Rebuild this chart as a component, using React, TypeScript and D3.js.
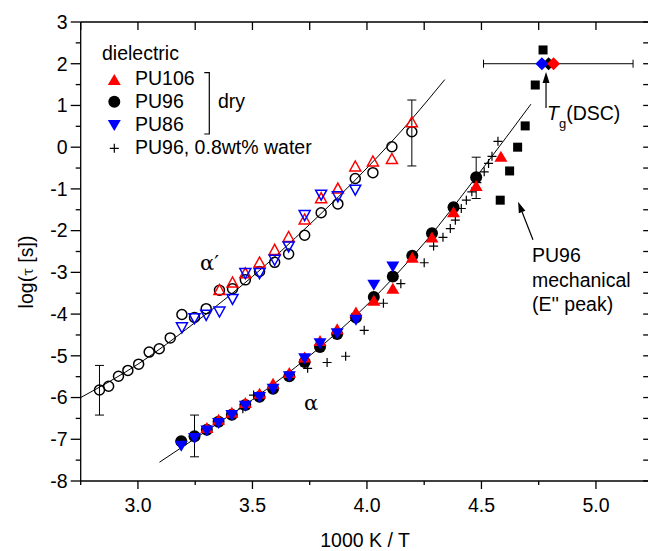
import React from 'react'
import * as d3 from 'd3'

// alpha' process (open symbols)
const pu96AlphaP = [[2.832,-5.82],[2.872,-5.73],[2.915,-5.49],[2.956,-5.35],[3.003,-5.2],[3.049,-4.91],[3.093,-4.83],[3.141,-4.57],[3.192,-4.01],[3.247,-4.08],[3.298,-3.87],[3.356,-3.43],[3.413,-3.39],[3.469,-3.18],[3.531,-2.98],[3.597,-2.76],[3.658,-2.56],[3.728,-2.11],[3.8,-1.57],[3.873,-1.36],[3.949,-0.75],[4.026,-0.61],[4.109,0.01],[4.196,0.37]]
const pu106AlphaP = [[3.356,-3.41],[3.413,-3.23],[3.469,-3.01],[3.531,-2.75],[3.597,-2.45],[3.658,-2.14],[3.728,-1.72],[3.8,-1.21],[3.873,-0.98],[3.949,-0.45],[4.026,-0.33],[4.109,-0.27],[4.196,0.61]]
const pu86AlphaP = [[3.192,-4.33],[3.247,-4.11],[3.298,-4.03],[3.356,-3.95],[3.413,-3.65],[3.469,-3.03],[3.531,-3.03],[3.597,-2.71],[3.658,-2.39],[3.728,-1.64],[3.8,-1.15],[3.873,-1.19],[3.949,-1.03]]

// alpha process (filled symbols)
const pu96Alpha = [[3.189,-7.05],[3.247,-6.93],[3.301,-6.77],[3.352,-6.58],[3.41,-6.41],[3.469,-6.18],[3.531,-5.98],[3.59,-5.79],[3.661,-5.49],[3.728,-5.15],[3.795,-4.79],[3.87,-4.48],[3.952,-4.08],[4.03,-3.59],[4.113,-3.1],[4.198,-2.6],[4.284,-2.06],[4.378,-1.44],[4.477,-0.72]]
const pu106Alpha = [[3.301,-6.72],[3.352,-6.52],[3.41,-6.35],[3.469,-6.12],[3.531,-5.9],[3.59,-5.66],[3.661,-5.4],[3.728,-5.03],[3.795,-4.63],[3.87,-4.35],[3.952,-3.95],[4.03,-3.67],[4.113,-3.38],[4.198,-2.64],[4.284,-2.15],[4.378,-1.55],[4.477,-0.92],[4.585,-0.22]]
const pu86Alpha = [[3.189,-7.17],[3.247,-6.98],[3.301,-6.8],[3.352,-6.62],[3.41,-6.43],[3.469,-6.21],[3.531,-6.0],[3.59,-5.8],[3.661,-5.5],[3.728,-5.07],[3.795,-4.71],[3.87,-4.47],[3.952,-4.15],[4.03,-3.31],[4.113,-2.87]]
const waterAlpha = [[3.458,-6.27],[3.505,-5.94],[3.741,-5.3],[3.826,-5.16],[3.907,-5.01],[3.988,-4.39],[4.072,-3.74],[4.148,-3.27],[4.25,-2.77],[4.291,-2.37],[4.332,-2.16],[4.364,-1.95],[4.386,-1.75],[4.412,-1.47],[4.434,-1.27],[4.458,-1.07],[4.48,-0.85],[4.512,-0.59],[4.531,-0.39],[4.546,-0.22],[4.572,0.14]]

// mechanical E'' peak, PU96
const mechanical = [[4.582,-1.27],[4.623,-0.57],[4.658,0.0],[4.691,0.51],[4.735,1.49],[4.769,2.33]]

// Tg from DSC (x) at log tau = 2
const tgX = { pu86: 4.764, pu96: 4.793, pu106: 4.815 }
const tgY = 2
const tgRange = [4.509, 5.162]

// fit curves
const fitAlphaP = [[2.75,-6.0],[3.0,-5.2],[3.25,-4.2],[3.5,-3.1],[3.75,-1.85],[4.0,-0.5],[4.2,0.7],[4.34,1.62]]
const fitAlpha = [[3.094,-7.55],[3.25,-6.98],[3.5,-6.05],[3.75,-5.0],[4.0,-3.78],[4.25,-2.3],[4.5,-0.55],[4.716,1.03]]

// vertical error bars: x, low, high
const errorBars = [[2.832,-6.42,-5.23],[4.196,-0.45,1.13],[3.247,-7.42,-6.42],[4.477,-1.23,-0.24]]

const xMajor = [3.0, 3.5, 4.0, 4.5, 5.0]
const xMinor = [2.75, 3.25, 3.75, 4.25, 4.75, 5.25]
const yMajor = [-8, -7, -6, -5, -4, -3, -2, -1, 0, 1, 2, 3]
const yMinor = [-7.5, -6.5, -5.5, -4.5, -3.5, -2.5, -1.5, -0.5, 0.5, 1.5, 2.5]

const W = 648
const H = 551
const x = d3.scaleLinear().domain([2.75, 5.25]).range([80.7, 653.2])
const y = d3.scaleLinear().domain([-8, 3]).range([481, 22])

const RED = '#ff0000'
const BLUE = '#0000ff'
const FONT = 'Arial, "Liberation Sans", sans-serif'
const FS = 19.5

const triUp = (cx, cy, w, h) => `M${cx - w / 2},${cy + h / 2}L${cx + w / 2},${cy + h / 2}L${cx},${cy - h / 2}Z`
const triDown = (cx, cy, w, h) => `M${cx - w / 2},${cy - h / 2}L${cx + w / 2},${cy - h / 2}L${cx},${cy + h / 2}Z`

const Cross = ({ cx, cy, s = 4.5 }) => (
  <path d={`M${cx - s},${cy}H${cx + s}M${cx},${cy - s}V${cy + s}`} stroke="#000" strokeWidth={1.2} />
)

const Arrow = ({ x1, y1, x2, y2 }) => {
  const a = Math.atan2(y2 - y1, x2 - x1)
  const L = 11, hw = 3.5
  const bx = x2 - L * Math.cos(a), by = y2 - L * Math.sin(a)
  const px = -Math.sin(a) * hw, py = Math.cos(a) * hw
  return (
    <g>
      <line x1={x1} y1={y1} x2={bx} y2={by} stroke="#000" strokeWidth={1.2} />
      <path d={`M${x2},${y2}L${bx + px},${by + py}L${bx - px},${by - py}Z`} fill="#000" />
    </g>
  )
}

export default function App() {
  const line = d3.line().x(d => x(d[0])).y(d => y(d[1])).curve(d3.curveMonotoneX)
  const x0 = x(2.75), x1 = x(5.25), y0 = y(-8), y1 = y(3)

  return (
    <svg width={W} height={H} style={{ position: 'absolute', left: 0, top: 0, background: '#fff' }} fontFamily={FONT}>
      {/* axes frame */}
      <g stroke="#000" strokeWidth={1.3} fill="none">
        <line x1={x0} y1={y0} x2={x1} y2={y0} />
        <line x1={x0} y1={y1} x2={x1} y2={y1} />
        <line x1={x0} y1={y0} x2={x0} y2={y1} />
        <line x1={x1} y1={y0} x2={x1} y2={y1} />
        {xMajor.map(t => <line key={'xb' + t} x1={x(t)} x2={x(t)} y1={y0} y2={y0 + 8} />)}
        {xMinor.map(t => <line key={'xbm' + t} x1={x(t)} x2={x(t)} y1={y0} y2={y0 + 4} />)}
        {[...xMajor, ...xMinor].map(t => <line key={'xt' + t} x1={x(t)} x2={x(t)} y1={y1} y2={y1 + 8} />)}
        {yMajor.map(t => <line key={'yl' + t} x1={x0 - 10} x2={x0} y1={y(t)} y2={y(t)} />)}
        {yMinor.map(t => <line key={'ylm' + t} x1={x0 - 5} x2={x0} y1={y(t)} y2={y(t)} />)}
        {[...yMajor, ...yMinor].map(t => <line key={'yr' + t} x1={x1 - 10} x2={x1} y1={y(t)} y2={y(t)} />)}
      </g>
      <g fontSize={FS} fill="#000">
        {xMajor.map(t => <text key={'xl' + t} x={x(t)} y={y0 + 31} textAnchor="middle">{t.toFixed(1)}</text>)}
        {yMajor.map(t => <text key={'ylb' + t} x={x0 - 13} y={y(t)} dy="0.35em" textAnchor="end">{t}</text>)}
        <text x={365} y={547} textAnchor="middle">1000 K / T</text>
        <text transform="translate(33,272) rotate(-90)" textAnchor="middle">
          log(<tspan fontSize={14} fontFamily='"DejaVu Serif", serif'>τ</tspan> [s])
        </text>
      </g>

      {/* fits */}
      <path d={line(fitAlphaP)} fill="none" stroke="#000" strokeWidth={1} />
      <path d={line(fitAlpha)} fill="none" stroke="#000" strokeWidth={1} />

      {/* error bars */}
      <g stroke="#000" strokeWidth={1}>
        {errorBars.map(([ex, lo, hi], i) => (
          <g key={'eb' + i}>
            <line x1={x(ex)} x2={x(ex)} y1={y(lo)} y2={y(hi)} />
            <line x1={x(ex) - 4.5} x2={x(ex) + 4.5} y1={y(lo)} y2={y(lo)} />
            <line x1={x(ex) - 4.5} x2={x(ex) + 4.5} y1={y(hi)} y2={y(hi)} />
          </g>
        ))}
        <line x1={x(tgRange[0])} x2={x(tgRange[1])} y1={y(tgY)} y2={y(tgY)} />
        <line x1={x(tgRange[0])} x2={x(tgRange[0])} y1={y(tgY) - 4} y2={y(tgY) + 4} />
        <line x1={x(tgRange[1])} x2={x(tgRange[1])} y1={y(tgY) - 4} y2={y(tgY) + 4} />
      </g>

      {/* alpha' open symbols */}
      <g fill="none" strokeWidth={1.5}>
        {pu96AlphaP.map((d, i) => <circle key={'ocb' + i} cx={x(d[0])} cy={y(d[1])} r={5} stroke="#000" />)}
        {pu106AlphaP.map((d, i) => <path key={'otr' + i} d={triUp(x(d[0]), y(d[1]), 11, 10)} stroke={RED} />)}
        {pu86AlphaP.map((d, i) => <path key={'otb' + i} d={triDown(x(d[0]), y(d[1]), 11, 10)} stroke={BLUE} />)}
      </g>

      {/* alpha filled symbols */}
      {waterAlpha.map((d, i) => <Cross key={'cr' + i} cx={x(d[0])} cy={y(d[1])} />)}
      {pu96Alpha.map((d, i) => <circle key={'fcb' + i} cx={x(d[0])} cy={y(d[1])} r={6} fill="#000" />)}
      {pu106Alpha.map((d, i) => <path key={'ftr' + i} d={triUp(x(d[0]), y(d[1]), 13, 11)} fill={RED} />)}
      {pu86Alpha.map((d, i) => <path key={'ftb' + i} d={triDown(x(d[0]), y(d[1]), 13, 11)} fill={BLUE} />)}

      {/* mechanical */}
      {mechanical.map((d, i) => <rect key={'sq' + i} x={x(d[0]) - 4.5} y={y(d[1]) - 4.5} width={9} height={9} fill="#000" />)}

      {/* Tg diamonds */}
      {[['pu96', '#000'], ['pu86', BLUE], ['pu106', RED]].map(([k, c]) => (
        <path key={'dm' + k} d={`M${x(tgX[k])},${y(tgY) - 6.5}l6.5,6.5l-6.5,6.5l-6.5,-6.5Z`} fill={c} />
      ))}

      {/* annotations */}
      <Arrow x1={x(4.782)} y1={y(0.94)} x2={x(4.782)} y2={y(1.8)} />
      <Arrow x1={x(4.725)} y1={y(-2.22)} x2={x(4.66)} y2={y(-1.31)} />
      <g fontSize={FS} fill="#000">
        <text x={547} y={120}>
          <tspan fontStyle="italic">T</tspan><tspan fontSize={13} dy={8}>g</tspan><tspan dy={-8}>(DSC)</tspan>
        </text>
        <text x={532} y={262}>PU96</text>
        <text x={532} y={287}>mechanical</text>
        <text x={532} y={311}>(E'' peak)</text>
      </g>
      <g fontSize={21} fontFamily='"DejaVu Serif", "Liberation Serif", serif'>
        <text x={200} y={270}>α′</text>
        <text x={304} y={410}>α</text>
      </g>

      {/* legend */}
      <g fontSize={FS} fill="#000">
        <text x={102} y={60}>dielectric</text>
        <path d={triUp(114.3, 79.5, 13, 11)} fill={RED} />
        <text x={135} y={85}>PU106</text>
        <circle cx={114.3} cy={101.7} r={6} fill="#000" />
        <text x={135} y={108}>PU96</text>
        <path d={triDown(114.3, 125.5, 13, 11)} fill={BLUE} />
        <text x={135} y={131}>PU86</text>
        <Cross cx={114.3} cy={148.3} />
        <text x={135} y={154}>PU96, 0.8wt% water</text>
        <path d="M204.3,72.7H209.3V134H204.3" fill="none" stroke="#000" strokeWidth={1.2} />
        <text x={218} y={108}>dry</text>
      </g>
    </svg>
  )
}
